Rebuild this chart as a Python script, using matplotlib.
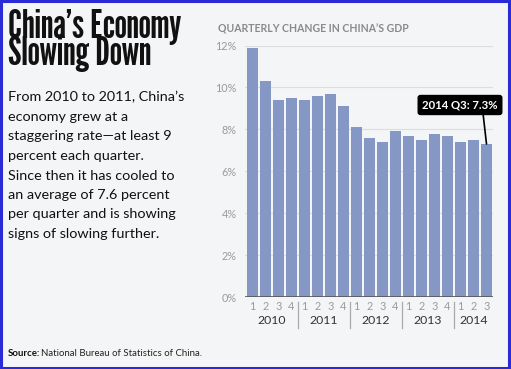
import matplotlib
matplotlib.use("Agg")
import matplotlib.pyplot as plt
import matplotlib.patches as patches
import matplotlib.transforms as mtransforms

# Data
years = ["2010", "2011", "2012", "2013", "2014"]
quarters_per_year = [4, 4, 4, 4, 3]
gdp_change = [11.9, 10.3, 9.4, 9.5,
              9.4, 9.6, 9.7, 9.1,
              8.1, 7.6, 7.4, 7.9,
              7.7, 7.5, 7.8, 7.7,
              7.4, 7.5, 7.3]
y_ticks = [0, 2, 4, 6, 8, 10, 12]

title_lines = ["China\u2019s Economy", "Slowing Down"]
body_lines = ["From 2010 to 2011, China\u2019s",
              "economy grew at a",
              "staggering rate\u2014at least 9",
              "percent each quarter.",
              "Since then it has cooled to",
              "an average of 7.6 percent",
              "per quarter and is showing",
              "signs of slowing further."]

quarter_labels = []
for n in quarters_per_year:
    quarter_labels += [str(q + 1) for q in range(n)]

bg = "#f4f5f7"
bar_color = "#8497c5"
sans = ["Lato", "DejaVu Sans"]
W, H = 511, 369

fig = plt.figure(figsize=(W / 100, H / 100), dpi=100, facecolor=bg)

# Outer blue frame
fig.patches.append(patches.Rectangle((0.001, 0.002), 0.996, 0.995,
                                     transform=fig.transFigure, fill=False,
                                     edgecolor="#2a2ad6", linewidth=2.2))

# Left text block
for i, line in enumerate(title_lines):
    fig.text(8 / W, 1 - (38 + 27 * i) / H, line,
             family=["League Gothic", "Fjalla One", "DejaVu Sans"],
             fontsize=28.5, color="#111111", va="baseline", ha="left")

for i, line in enumerate(body_lines):
    fig.text(8 / W, 1 - (101.5 + 19.5 * i) / H, line, family=sans,
             fontsize=10.4, color="#111111", va="baseline", ha="left")

fig.text(8 / W, 1 - 353 / H, "Source:", family=sans,
         fontsize=6.9, fontweight="bold", color="#111111", va="center")
fig.text(41 / W, 1 - 353 / H, "National Bureau of Statistics of China.",
         family=sans, fontsize=6.9, color="#222222", va="center")

fig.text(218 / W, 1 - 29.5 / H, "QUARTERLY CHANGE IN CHINA\u2019S GDP",
         family=sans, fontsize=7.6, fontweight="bold",
         color="#8a8a8a", va="center", ha="left")

# Chart
ax = fig.add_axes([245 / W, 72 / H, 248 / W, 251.5 / H])
ax.set_facecolor(bg)
x = list(range(len(gdp_change)))
ax.bar(x, gdp_change, width=0.88, color=bar_color, zorder=2)

ax.set_xlim(-0.58, 18.5)
ax.set_ylim(0, 12)
ax.set_yticks(y_ticks)
ax.set_yticklabels([f"{t}%" for t in y_ticks])
ax.grid(axis="y", color="#dddddd", linewidth=0.8, zorder=0)
ax.axhline(0, color="#555555", linewidth=1.2, zorder=3)

for s in ax.spines.values():
    s.set_visible(False)

ax.set_xticks(x)
ax.set_xticklabels(quarter_labels)
ax.tick_params(axis="both", length=0, colors="#9a9a9a", labelsize=7.8)
ax.tick_params(axis="x", pad=3)
ax.tick_params(axis="y", pad=6)
for lbl in ax.get_xticklabels() + ax.get_yticklabels():
    lbl.set_family(sans)

# Year labels and separators
trans = mtransforms.blended_transform_factory(ax.transData, ax.transAxes)
start = 0
for i, (yr, n) in enumerate(zip(years, quarters_per_year)):
    center = start + (n - 1) / 2
    ax.text(center, -0.092, yr, transform=trans, ha="center", va="center",
            family=sans, fontsize=8.8, color="#333333")
    if i > 0:
        ax.plot([start - 0.5, start - 0.5], [-0.019, -0.123], transform=trans,
                color="#aaaaaa", linewidth=0.9, clip_on=False)
    start += n

# Callout for the latest quarter
last = len(gdp_change) - 1
ax.annotate(f"2014 Q3: {gdp_change[last]}%", xy=(last, gdp_change[last]),
            xytext=(460 / W, 1 - 105 / H), textcoords="figure fraction",
            ha="center", va="center", color="white", fontweight="bold",
            family=sans, fontsize=8.2,
            bbox=dict(boxstyle="round,pad=0.35,rounding_size=0.2",
                      fc="black", ec="black"),
            arrowprops=dict(arrowstyle="-", color="black", lw=1.2,
                            relpos=(0.8, 0), shrinkA=0, shrinkB=0),
            annotation_clip=False, zorder=5)

fig.savefig("out.png", dpi=100, facecolor=bg)
